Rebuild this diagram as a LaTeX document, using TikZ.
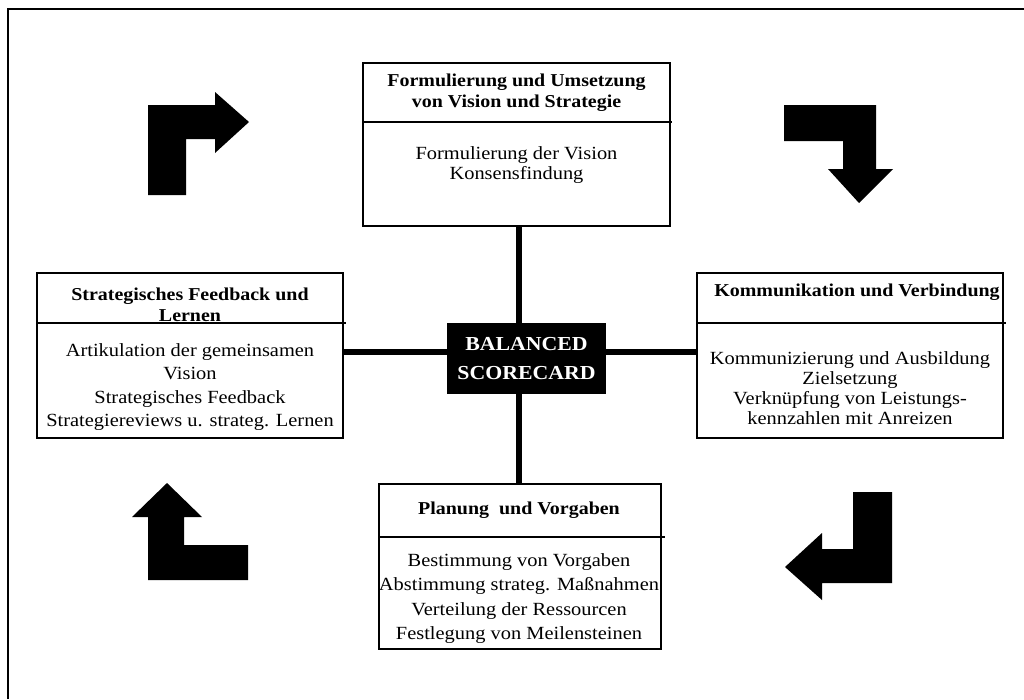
\documentclass[tikz,border=0pt]{standalone}
\usepackage{fontspec}
\setmainfont[FakeStretch=1.1]{Liberation Serif}
\usetikzlibrary{positioning}
\tikzset{
  box/.style={draw, line width=1.1pt, fill=white, inner sep=0pt},
  head/.style={font=\bfseries\fontsize{12.9}{14.9}\selectfont, align=center},
  body/.style={font=\fontsize{13.2}{14.2}\selectfont, align=center},
  core/.style={fill=black, text=white, inner sep=0pt, align=center,
    font=\bfseries\fontsize{14.1}{21}\selectfont},
  link/.style={line width=3.6pt},
  turn/.style={fill=black, draw=none},
}

\begin{document}
\begin{tikzpicture}[x=0.025cm, y=-0.025cm]
  \useasboundingbox (0,0) rectangle (1024,699);
  % frame
  \draw[line width=1pt] (8,699) -- (8,9) -- (1024,9);
  % boxes
  \node[box, minimum width=7.675cm, minimum height=4.075cm] (vision) at (516.5,144.5) {};
  \node[box, minimum width=7.65cm, minimum height=4.125cm] (feedback) at (190,355.5) {};
  \node[box, minimum width=7.65cm, minimum height=4.125cm] (komm) at (850,355.5) {};
  \node[box, minimum width=7.05cm, minimum height=4.125cm] (planung) at (520,566.5) {};
  \node[core, minimum width=3.975cm, minimum height=1.775cm] (bsc) at (526.5,358.5) {BALANCED\\SCORECARD};
  % separators
  \draw[line width=1.1pt] (vision.west |- 0,122) -- (672,122);
  \draw[line width=1.1pt] (feedback.west |- 0,323) -- (346,323);
  \draw[line width=1.1pt] (komm.west |- 0,323) -- (1006,323);
  \draw[line width=1.1pt] (planung.west |- 0,537) -- ([xshift=2pt]planung.east |- 0,537);
  % links
  \draw[link] (vision.south -| 519,0) -- (bsc.north -| 519,0);
  \draw[link] (bsc.south -| 519,0) -- (planung.north -| 519,0);
  \draw[link] (feedback.east |- 0,352) -- (bsc.west |- 0,352);
  \draw[link] (bsc.east |- 0,352) -- (komm.west |- 0,352);
  % texts
  \node[head] (visionhead) at (516.5,92.5) {Formulierung und Umsetzung\\von Vision und Strategie};
  \node[body] (visionbody) at (516.5,165) {Formulierung der Vision\\Konsensfindung};
  \node[head] (feedbackhead) at (190,305) {Strategisches Feedback und\\Lernen};
  \node[body, font=\fontsize{13.2}{16.8}\selectfont] (feedbackbody) at (190,387) {Artikulation der gemeinsamen\\Vision\\Strategisches Feedback\\Strategiereviews u. strateg. Lernen};
  \node[head] (kommhead) at (857,292) {Kommunikation und Verbindung};
  \node[body] (kommbody) at (850,388) {Kommunizierung und Ausbildung\\Zielsetzung\\Verknüpfung von Leistungs-\\kennzahlen mit Anreizen};
  \node[head] (planunghead) at (519,510) {Planung\ \ und Vorgaben};
  \node[body, font=\fontsize{13.2}{17.2}\selectfont] (planungbody) at (519,598.5) {Bestimmung von Vorgaben\\Abstimmung strateg. Maßnahmen\\Verteilung der Ressourcen\\Festlegung von Meilensteinen};
  % turning arrows
  \fill[turn] (148,195) -- (148,105) -- (215,105) -- (215,92) -- (249,122)
    -- (215,153) -- (215,139) -- (186,139) -- (186,195) -- cycle;
  \fill[turn] (784,105) -- (876,105) -- (876,169) -- (893,169) -- (859,203)
    -- (828,169) -- (843,169) -- (843,141) -- (784,141) -- cycle;
  \fill[turn] (248,580) -- (148,580) -- (148,517) -- (132,517) -- (167,483)
    -- (202,517) -- (184,517) -- (184,545) -- (248,545) -- cycle;
  \fill[turn] (892,492) -- (892,583) -- (822,583) -- (822,600) -- (785,567)
    -- (822,533) -- (822,549) -- (853,549) -- (853,492) -- cycle;
\end{tikzpicture}
\end{document}
